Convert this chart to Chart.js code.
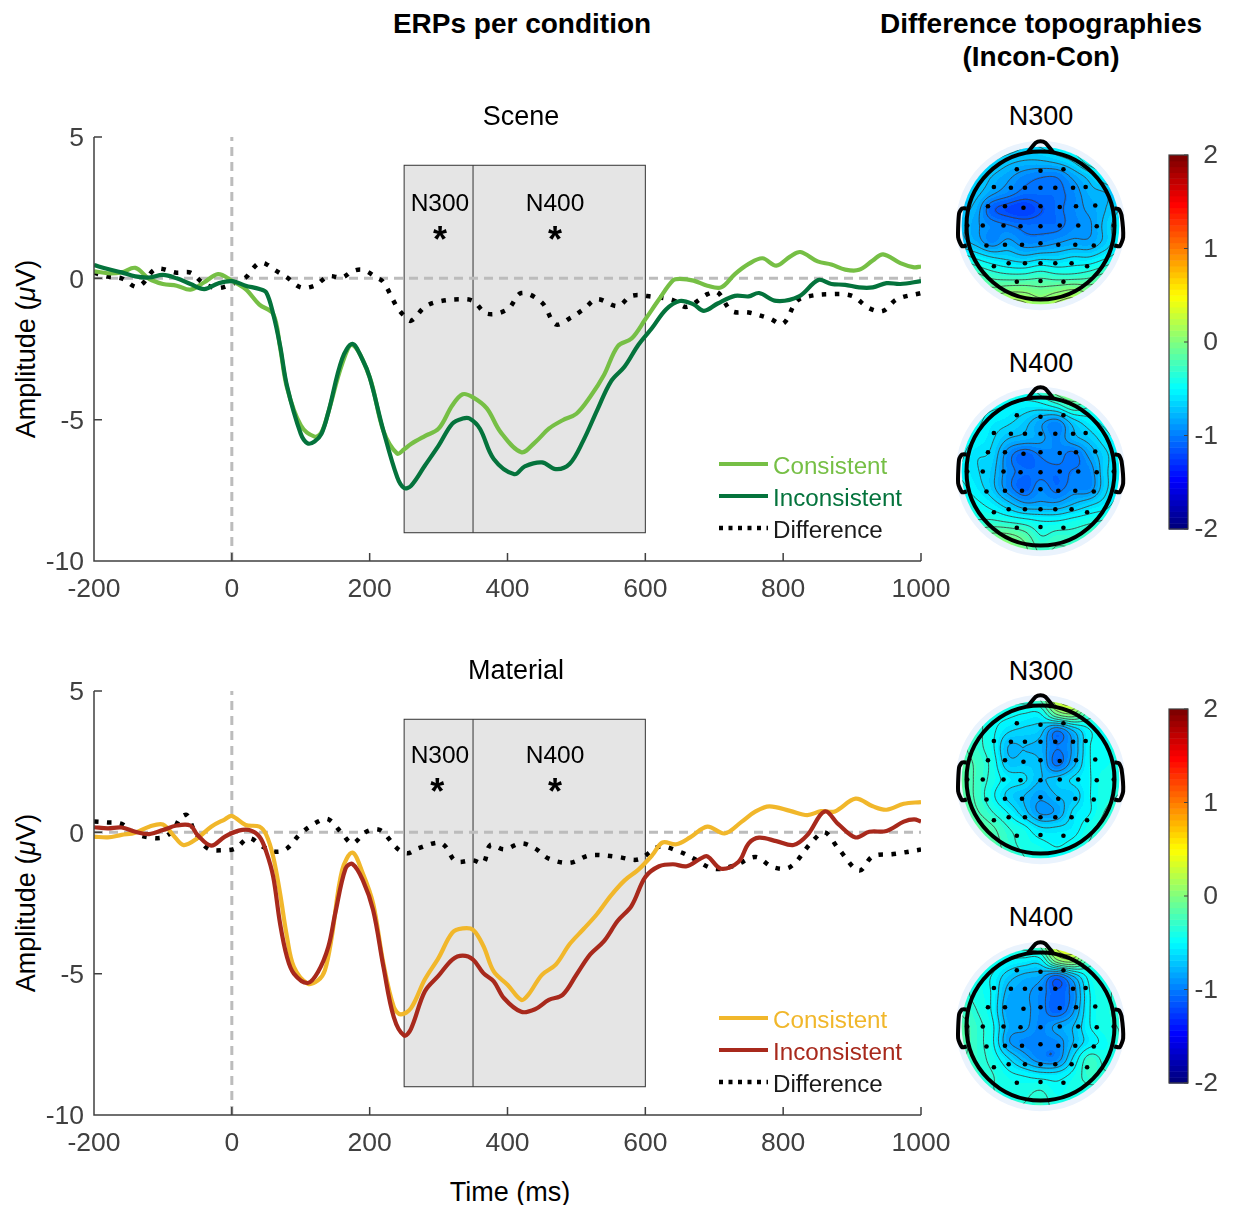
<!DOCTYPE html>
<html>
<head>
<meta charset="utf-8">
<title>ERPs per condition</title>
<script src="https://cdn.jsdelivr.net/npm/chart.js@4"></script>
<style>
  html, body { margin: 0; padding: 0; background: #fff; }
  body { position: relative; width: 1235px; height: 1205px; overflow: hidden; font-family: "Liberation Sans", Arial, sans-serif; color: #000; }
  canvas { position: absolute; }
  .txt { position: absolute; white-space: nowrap; transform: translate(-50%, -50%); font-size: 27px; line-height: 1; }
  .head { font-weight: bold; font-size: 28px; }
  .rot { transform: translate(-50%, -50%) rotate(-90deg); }
</style>
</head>
<body>
<div class="txt head" style="left:522px;top:24px">ERPs per condition</div>
<div class="txt head" style="left:1041px;top:24px">Difference topographies</div>
<div class="txt head" style="left:1041px;top:57px">(Incon-Con)</div>
<div class="txt rot" style="left:26px;top:349px">Amplitude (<i>&mu;</i>V)</div>
<div class="txt rot" style="left:26px;top:903px">Amplitude (<i>&mu;</i>V)</div>
<div class="txt" style="left:510px;top:1192px">Time (ms)</div>
<div class="txt" style="left:1041px;top:116px">N300</div>
<div class="txt" style="left:1041px;top:363px">N400</div>
<div class="txt" style="left:1041px;top:671px">N300</div>
<div class="txt" style="left:1041px;top:917px">N400</div>

<canvas id="scene" width="960" height="520" style="left:0;top:90px"></canvas>
<canvas id="material" width="960" height="520" style="left:0;top:644px"></canvas>
<canvas id="topoA" width="193" height="193" style="left:944px;top:129px"></canvas>
<canvas id="topoB" width="193" height="193" style="left:944px;top:375px"></canvas>
<canvas id="topoC" width="193" height="193" style="left:944px;top:683px"></canvas>
<canvas id="topoD" width="193" height="193" style="left:944px;top:930px"></canvas>
<canvas id="barTop" width="75" height="434" style="left:1160px;top:125px"></canvas>
<canvas id="barBottom" width="75" height="434" style="left:1160px;top:679px"></canvas>

<script>
const timeTicks = [-200, 0, 200, 400, 600, 800, 1000];
const ampTicks = [-10, -5, 0, 5];
const colorTicks = [-2, -1, 0, 1, 2];

// Scene, values
const sceneConT = [-200,-180,-160,-140,-120,-100,-80,-60,-40,-20,0,20,40,60,70,80,100,120,130,140,160,175,200,220,240,250,260,280,300,320,335,350,370,390,420,440,460,480,500,520,540,560,580,600,620,640,650,670,690,710,730,750,770,790,810,825,850,870,890,910,930,945,970,990,1000];
const sceneConV = [0.25,0.18,0.21,0.37,-0.02,-0.2,-0.26,-0.4,-0.14,0.15,-0.08,-0.38,-0.93,-1.26,-2.44,-3.86,-5.2,-5.6,-5.45,-4.74,-3.03,-2.35,-3.5,-5.4,-6.2,-6.05,-5.86,-5.58,-5.32,-4.49,-4.1,-4.21,-4.6,-5.44,-6.15,-5.8,-5.32,-5.02,-4.79,-4.19,-3.42,-2.4,-2.13,-1.45,-0.74,-0.08,-0.02,-0.08,-0.26,-0.32,0.15,0.51,0.71,0.45,0.77,0.93,0.6,0.49,0.31,0.3,0.63,0.85,0.54,0.39,0.42];
const sceneIncT = [-200,-180,-160,-140,-120,-100,-80,-60,-40,-20,0,20,40,50,60,70,80,100,110,120,130,140,160,175,190,200,220,240,250,260,280,300,320,335,345,360,380,410,425,450,470,490,510,530,550,570,590,610,630,650,670,685,705,730,750,765,790,823,851,870,890,910,930,950,970,1000];
const sceneIncV = [0.47,0.33,0.21,0.07,0.03,0.12,0,-0.2,-0.38,-0.18,-0.1,-0.26,-0.38,-0.5,-1.26,-2.38,-3.8,-5.5,-5.84,-5.77,-5.5,-4.74,-2.85,-2.32,-2.9,-3.5,-5.4,-7.04,-7.42,-7.34,-6.63,-5.92,-5.14,-4.96,-4.96,-5.32,-6.39,-6.93,-6.65,-6.51,-6.75,-6.57,-5.74,-4.67,-3.65,-3.12,-2.35,-1.75,-1.1,-0.8,-0.92,-1.15,-0.89,-0.62,-0.64,-0.52,-0.8,-0.64,-0.06,-0.2,-0.23,-0.32,-0.32,-0.17,-0.2,-0.1];
const sceneDifT = [-200,-180,-160,-140,-130,-110,-80,-60,-40,-20,0,20,30,40,50,60,80,100,120,140,160,175,190,210,220,240,250,260,280,300,330,350,370,400,420,450,470,490,510,530,560,580,610,640,660,690,705,725,750,780,800,820,840,870,900,925,945,965,1000];
const sceneDifV = [0.2,0.06,0,-0.3,-0.2,0.33,0.2,0.2,-0.2,-0.34,-0.2,0.03,0.33,0.54,0.5,0.33,0.03,-0.32,-0.26,0.07,0.03,0.25,0.3,0.03,-0.14,-1.03,-1.32,-1.5,-1.01,-0.82,-0.74,-0.8,-1.25,-1.1,-0.52,-0.86,-1.63,-1.42,-1.1,-0.74,-0.98,-0.62,-0.65,-0.77,-1.01,-0.56,-0.5,-1.15,-1.21,-1.42,-1.6,-0.8,-0.62,-0.56,-0.62,-1.06,-1.15,-0.74,-0.52];

// Material
const materialConT = [-200,-180,-160,-140,-120,-100,-85,-70,-50,-30,-10,0,20,40,50,60,70,80,90,110,125,135,145,160,175,190,205,220,235,245,260,280,300,320,335,350,365,380,400,420,430,450,470,490,510,530,550,570,590,610,625,645,665,690,715,740,760,780,810,835,855,875,905,930,950,975,1000];
const materialConV = [-0.15,-0.18,-0.09,-0.01,0.2,0.28,-0.1,-0.45,-0.21,0.2,0.46,0.58,0.26,0.2,-0.09,-0.86,-2.16,-3.7,-4.76,-5.35,-5.24,-4.88,-3.7,-1.34,-0.72,-1.45,-2.52,-4.65,-6.18,-6.44,-6.22,-5.21,-4.44,-3.55,-3.4,-3.45,-4.02,-4.92,-5.39,-5.93,-5.75,-5.04,-4.68,-3.96,-3.43,-2.89,-2.24,-1.7,-1.32,-0.81,-0.36,-0.42,-0.18,0.2,-0.04,0.38,0.74,0.92,0.76,0.61,0.75,0.74,1.19,0.92,0.8,1.01,1.07];
const materialIncT = [-200,-180,-160,-140,-120,-100,-80,-60,-50,-30,-10,10,25,40,50,60,70,80,90,110,125,140,150,165,175,190,205,220,235,250,260,280,300,320,335,350,365,380,395,420,440,460,480,500,520,540,560,580,600,620,640,660,680,690,710,735,750,765,790,815,835,860,880,905,925,950,975,990,1000];
const materialIncV = [0.18,0.14,0.17,0.02,-0.06,0.08,0.24,0.24,-0.09,-0.47,-0.15,0.06,0.08,-0.15,-0.69,-1.57,-3.23,-4.41,-5,-5.33,-4.94,-4.05,-2.87,-1.28,-1.12,-1.69,-2.75,-4.76,-6.54,-7.19,-6.95,-5.63,-5.07,-4.5,-4.36,-4.5,-4.98,-5.27,-5.87,-6.35,-6.26,-5.93,-5.75,-5.04,-4.32,-3.85,-3.13,-2.6,-1.58,-1.2,-1.13,-1.2,-0.93,-0.85,-1.29,-1.05,-0.39,-0.19,-0.31,-0.45,-0.1,0.74,0.29,-0.18,0.02,0.05,0.38,0.46,0.38];
const materialDifT = [-200,-180,-160,-140,-120,-100,-85,-75,-65,-55,-35,-10,5,25,45,65,80,100,125,140,160,175,195,215,240,255,270,300,310,325,350,365,375,395,420,440,460,490,520,560,590,620,650,670,700,730,760,785,810,840,860,880,910,930,960,1000];
const materialDifV = [0.38,0.35,0.3,-0.04,-0.18,-0.18,0.08,0.5,0.61,0.08,-0.57,-0.63,-0.57,-0.21,-0.51,-0.69,-0.57,-0.04,0.38,0.46,-0.04,-0.39,0.02,0.08,-0.57,-0.74,-0.57,-0.36,-0.5,-1.02,-0.99,-1.08,-0.45,-0.6,-0.39,-0.57,-0.93,-1.08,-0.81,-0.87,-0.96,-0.51,-0.69,-0.93,-1.29,-1.17,-0.87,-1.23,-1.23,-0.39,0,-0.57,-1.35,-0.85,-0.77,-0.61];

const zeroX = [-200, 1000];
const zeroY = [0, 0];
const onsetX = [0, 0];
const onsetY = [-10, 5];
const windowEdges = [250, 350, 600];
const windowRange = [-9, 4];

const legendNames = ['Consistent', 'Inconsistent', 'Difference'];
const sceneColors = ['#76bf45', '#04733c', '#000000'];
const materialColors = ['#f1b72b', '#a8291c', '#000000'];

// topography grids, rows top to bottom, x and y run from -1.1 to 1.1 in head units
const gridStep = 0.22;
const topoSceneN300 = [
  [-.3,-.3,-.4,-.5,-.6,-.6,-.5,-.4,-.3,-.2,-.2],
  [-.4,-.5,-.6,-.7,-.75,-.75,-.7,-.6,-.4,-.3,-.2],
  [-.5,-.6,-.75,-.85,-.95,-1,-1,-.85,-.7,-.5,-.4],
  [-.6,-.7,-.85,-.95,-1.05,-1.05,-1.05,-.95,-.8,-.75,-.6],
  [-.7,-.8,-1.1,-1.2,-1.25,-1.15,-1.05,-.95,-.85,-.75,-.6],
  [-.7,-.85,-.95,-1,-1.05,-1.05,-1.05,-.95,-.9,-.7,-.5],
  [-.7,-.8,-.95,-.85,-.95,-.95,-.9,-.85,-.85,-.7,-.5],
  [-.4,-.5,-.6,-.65,-.7,-.65,-.65,-.6,-.6,-.5,-.4],
  [-.1,-.2,-.3,-.35,-.35,-.3,-.35,-.35,-.3,-.2,-.1],
  [.05,0,-.05,0,0,-.05,0,.05,0,.05,.05],
  [.2,.2,.2,.25,.2,.1,.2,.25,.2,.2,.2]
];
const topoSceneN400 = [
  [-.2,-.2,-.2,-.3,-.4,-.3,0,.2,-.1,-.2,-.2],
  [-.3,-.4,-.45,-.5,-.55,-.55,-.45,-.25,-.35,-.35,-.3],
  [-.35,-.45,-.55,-.6,-.7,-.85,-.95,-.7,-.55,-.45,-.35],
  [-.4,-.5,-.6,-.75,-.8,-.85,-.95,-.8,-.7,-.55,-.45],
  [-.45,-.6,-.65,-.95,-1.1,-1,-.95,-1.05,-.85,-.65,-.5],
  [-.5,-.6,-.7,-.95,-1.05,-1.05,-1.05,-1,-.95,-.65,-.5],
  [-.45,-.55,-.7,-.95,-1.1,-.95,-1.05,-.95,-.95,-.65,-.5],
  [-.4,-.45,-.55,-.7,-.85,-.85,-.85,-.75,-.65,-.55,-.4],
  [-.3,-.35,-.35,-.4,-.45,-.5,-.5,-.45,-.4,-.35,-.3],
  [-.2,-.15,-.05,-.05,-.15,-.35,-.3,-.3,-.25,-.2,-.2],
  [-.1,-.05,.05,.05,-.05,-.25,-.2,-.2,-.15,-.1,-.1]
];
const topoMaterialN300 = [
  [-.2,-.2,-.2,-.3,-.3,-.2,.3,.4,-.1,-.2,-.2],
  [-.25,-.3,-.4,-.45,-.5,-.5,-.1,0,-.3,-.3,-.25],
  [-.25,-.3,-.45,-.6,-.65,-.7,-1,-.75,-.5,-.45,-.3],
  [-.2,-.3,-.45,-.75,-.75,-.8,-1,-.85,-.5,-.45,-.35],
  [-.15,-.25,-.4,-.7,-.7,-.75,-1.05,-.8,-.5,-.45,-.4],
  [-.1,-.25,-.4,-.55,-.6,-.75,-.7,-.6,-.5,-.4,-.4],
  [-.1,-.25,-.45,-.65,-.75,-.85,-.75,-.7,-.5,-.4,-.35],
  [-.1,-.2,-.35,-.5,-.7,-.9,-.85,-.6,-.5,-.35,-.3],
  [-.1,-.1,-.2,-.35,-.45,-.6,-.6,-.55,-.4,-.3,-.25],
  [-.1,-.1,-.15,-.3,-.4,-.45,-.5,-.45,-.35,-.3,-.2],
  [-.1,-.1,-.15,-.25,-.35,-.4,-.45,-.4,-.3,-.2,-.2]
];
const topoMaterialN400 = [
  [-.2,-.25,-.3,-.35,-.3,-.2,.35,.45,-.05,-.2,-.2],
  [-.3,-.35,-.4,-.5,-.55,-.55,-.05,.05,-.3,-.35,-.3],
  [-.3,-.4,-.5,-.7,-.8,-.85,-1.1,-.8,-.45,-.4,-.3],
  [-.3,-.4,-.5,-.8,-.85,-.95,-1.1,-.95,-.5,-.4,-.3],
  [-.25,-.35,-.5,-.85,-.85,-.95,-1.1,-.9,-.5,-.4,-.3],
  [-.15,-.3,-.45,-.8,-.85,-.95,-.85,-.75,-.5,-.4,-.35],
  [-.15,-.3,-.45,-.85,-.95,-.95,-.95,-.75,-.55,-.45,-.35],
  [-.2,-.3,-.4,-.6,-.8,-.95,-.95,-.6,-.3,-.4,-.35],
  [-.2,-.3,-.35,-.45,-.5,-.55,-.55,-.45,-.3,-.35,-.3],
  [-.2,-.3,-.35,-.4,-.4,-.35,-.45,-.4,-.4,-.35,-.25],
  [-.15,-.2,-.3,-.35,-.35,-.3,-.4,-.35,-.35,-.25,-.2]
];
const contourLevels = [-1.4,-1.27,-1.14,-1.01,-.88,-.75,-.62,-.49,-.36,-.23,-.1,.03,.16,.29];

const electrodeX = [-.32,0,.31,-.63,-.4,-.21,0,.2,.44,.61,-.71,-.48,-.23,0,.26,.48,.74,-.78,-.5,-.27,0,.26,.51,.76,-.99,.99,-.73,-.48,-.25,0,.24,.47,.72,-.63,-.43,-.21,0,.2,.42,.63,-.32,0,.31];
const electrodeY = [.76,.74,.76,.52,.51,.51,.51,.51,.51,.52,.26,.26,.24,.26,.25,.26,.27,0,0,-.01,-.01,0,0,-.01,0,0,-.27,-.26,-.26,-.24,-.26,-.26,-.27,-.55,-.51,-.51,-.51,-.51,-.51,-.55,-.76,-.75,-.76];
const noseX = [-.173,-.065,0,.065,.173];
const noseY = [.987,1.117,1.14,1.117,.987];
const earLeftX = [-.996,-1.06,-1.1,-1.113,-1.06,-.996];
const earLeftY = [.23,.23,.165,-.16,-.28,-.27];
const earRightX = [.996,1.06,1.095,1.117,1.07,.996];
const earRightY = [.23,.22,.14,-.16,-.28,-.27];

const FONT = '"Liberation Sans", Arial, sans-serif';
const INK = '#404040';

function zip(xs, ys) {
  return xs.map((x, i) => ({x: x, y: ys[i]}));
}

function jet(v) {
  let t = (v + 2) / 4;
  t = Math.max(0, Math.min(63, Math.floor(t * 64))) / 63;
  const c = d => Math.round(255 * Math.max(0, Math.min(1, 1.5 - Math.abs(4 * t - d))));
  return [c(3), c(2), c(1)];
}

// catmull-rom through the grid
function cubic(a, b, c, d, t) {
  return 0.5 * (2 * b + (c - a) * t + (2 * a - 5 * b + 4 * c - d) * t * t + (3 * b - a - 3 * c + d) * t * t * t);
}

function sampleGrid(grid, hx, hy) {
  const n = grid.length;
  const col = Math.max(0, Math.min(n - 1.001, (hx + 1.1) / gridStep));
  const row = Math.max(0, Math.min(n - 1.001, (1.1 - hy) / gridStep));
  const c0 = Math.floor(col), r0 = Math.floor(row);
  const at = (r, c) => grid[Math.max(0, Math.min(n - 1, r))][Math.max(0, Math.min(n - 1, c))];
  const rows = [];
  for (let r = r0 - 1; r <= r0 + 2; r++) {
    rows.push(cubic(at(r, c0 - 1), at(r, c0), at(r, c0 + 1), at(r, c0 + 2), col - c0));
  }
  return cubic(rows[0], rows[1], rows[2], rows[3], row - r0);
}

// time axis styling shared by both panels
function panelPlugin(title, titleX, labels, colors) {
  return {
    id: 'panel',
    beforeDatasetsDraw(chart) {
      const {ctx} = chart;
      const x = chart.scales.x, y = chart.scales.y;
      const top = y.getPixelForValue(windowRange[1]), bottom = y.getPixelForValue(windowRange[0]);
      const left = x.getPixelForValue(windowEdges[0]), right = x.getPixelForValue(windowEdges[2]);
      ctx.save();
      ctx.fillStyle = '#e5e5e5';
      ctx.fillRect(left, top, right - left, bottom - top);
      ctx.strokeStyle = '#333';
      ctx.lineWidth = 1;
      ctx.strokeRect(left, top, right - left, bottom - top);
      const mid = x.getPixelForValue(windowEdges[1]);
      ctx.beginPath();
      ctx.moveTo(mid, top);
      ctx.lineTo(mid, bottom);
      ctx.stroke();
      ctx.restore();
    },
    afterDatasetsDraw(chart) {
      const {ctx, chartArea} = chart;
      const x = chart.scales.x, y = chart.scales.y;
      ctx.save();
      // axes with inward ticks
      ctx.strokeStyle = INK;
      ctx.lineWidth = 1.5;
      ctx.beginPath();
      ctx.moveTo(chartArea.left, chartArea.top);
      ctx.lineTo(chartArea.left, chartArea.bottom);
      ctx.lineTo(chartArea.right, chartArea.bottom);
      timeTicks.forEach(t => {
        const px = x.getPixelForValue(t);
        ctx.moveTo(px, chartArea.bottom);
        ctx.lineTo(px, chartArea.bottom - 8);
      });
      ampTicks.forEach(a => {
        const py = y.getPixelForValue(a);
        ctx.moveTo(chartArea.left, py);
        ctx.lineTo(chartArea.left + 8, py);
      });
      ctx.stroke();

      // window labels
      ctx.fillStyle = '#000';
      ctx.textAlign = 'center';
      ctx.textBaseline = 'middle';
      labels.forEach(l => {
        ctx.font = '24.5px ' + FONT;
        ctx.fillText(l.name, x.getPixelForValue(l.t), y.getPixelForValue(l.y) + 2);
        ctx.font = 'bold 36px ' + FONT;
        ctx.fillText('*', x.getPixelForValue(l.starT), y.getPixelForValue(l.starY) + 7);
      });

      // title
      ctx.font = '27px ' + FONT;
      ctx.fillText(title, titleX, chartArea.top - 19);

      // legend
      ctx.font = '24.2px ' + FONT;
      ctx.textAlign = 'left';
      legendNames.forEach((name, i) => {
        const ly = chartArea.top + 327 + i * 32;
        ctx.strokeStyle = colors[i];
        ctx.lineWidth = i === 2 ? 4.5 : 4;
        ctx.setLineDash(i === 2 ? [4, 5.5] : []);
        ctx.beginPath();
        ctx.moveTo(719, ly);
        ctx.lineTo(768, ly);
        ctx.stroke();
        ctx.fillStyle = i === 2 ? '#1a1a1a' : colors[i];
        ctx.fillText(name, 773, ly + 3);
      });
      ctx.restore();
    }
  };
}

function makePanel(id, title, titleX, series, labels, colors) {
  const refLine = data => ({
    data: data, borderColor: '#bcbcbc', borderWidth: 3, borderDash: [9, 6],
    pointRadius: 0, tension: 0, order: 9
  });
  const curve = (data, i) => ({
    label: legendNames[i], data: data, borderColor: colors[i], pointRadius: 0,
    borderWidth: i === 2 ? 4.5 : 4.2, tension: 0.35, order: [2, 1, 3][i],
    borderDash: i === 2 ? [4.5, 8.5] : [], borderCapStyle: 'butt'
  });
  return new Chart(document.getElementById(id), {
    type: 'line',
    data: {
      datasets: [
        refLine(zip(zeroX, zeroY)),
        refLine(zip(onsetX, onsetY)),
        curve(zip(series[0], series[1]), 0),
        curve(zip(series[2], series[3]), 1),
        curve(zip(series[4], series[5]), 2)
      ]
    },
    options: {
      responsive: false,
      animation: false,
      layout: {padding: {left: 0, right: 39, top: 47, bottom: 0}},
      plugins: {legend: {display: false}, tooltip: {enabled: false}},
      scales: {
        x: {
          type: 'linear', min: -200, max: 1000,
          afterBuildTicks: s => { s.ticks = timeTicks.map(v => ({value: v})); },
          afterFit: s => { s.height = 49; },
          grid: {display: false}, border: {display: false},
          ticks: {color: INK, font: {size: 26.5, family: FONT}, padding: 5, maxRotation: 0, autoSkip: false, callback: v => String(v)}
        },
        y: {
          min: -10, max: 5,
          afterBuildTicks: s => { s.ticks = ampTicks.map(v => ({value: v})); },
          afterFit: s => { s.width = 94; },
          grid: {display: false}, border: {display: false},
          ticks: {color: INK, font: {size: 26.5, family: FONT}, padding: 2, labelOffset: 2, callback: v => String(v)}
        }
      }
    },
    plugins: [panelPlugin(title, titleX, labels, colors)]
  });
}

makePanel('scene', 'Scene', 521,
  [sceneConT, sceneConV, sceneIncT, sceneIncV, sceneDifT, sceneDifV],
  [{name: 'N300', t: 302, y: 2.69, starT: 302, starY: 1.52}, {name: 'N400', t: 469, y: 2.69, starT: 469, starY: 1.52}],
  sceneColors);
makePanel('material', 'Material', 516,
  [materialConT, materialConV, materialIncT, materialIncV, materialDifT, materialDifV],
  [{name: 'N300', t: 302, y: 2.76, starT: 298, starY: 1.6}, {name: 'N400', t: 469, y: 2.76, starT: 469, starY: 1.6}],
  materialColors);

function topoPlugin(grid) {
  return {
    id: 'topo',
    beforeDatasetsDraw(chart) {
      const {ctx, chartArea} = chart;
      const x = chart.scales.x, y = chart.scales.y;
      const cx = x.getPixelForValue(0), cy = y.getPixelForValue(0);
      const unit = x.getPixelForValue(1) - cx;

      ctx.save();
      ctx.fillStyle = '#eaf3fd';
      ctx.beginPath();
      ctx.arc(cx, cy, 1.145 * unit, 0, Math.PI * 2);
      ctx.fill();

      // heat map
      const w = Math.round(chartArea.width), h = Math.round(chartArea.height);
      const off = document.createElement('canvas');
      off.width = w; off.height = h;
      const octx = off.getContext('2d');
      const img = octx.createImageData(w, h);
      for (let py = 0; py < h; py++) {
        for (let px = 0; px < w; px++) {
          const hx = x.getValueForPixel(chartArea.left + px + 0.5);
          const hy = y.getValueForPixel(chartArea.top + py + 0.5);
          const rgb = jet(sampleGrid(grid, hx, hy));
          const k = (py * w + px) * 4;
          img.data[k] = rgb[0]; img.data[k + 1] = rgb[1]; img.data[k + 2] = rgb[2]; img.data[k + 3] = 255;
        }
      }
      octx.putImageData(img, 0, 0);
      ctx.beginPath();
      ctx.arc(cx, cy, 1.065 * unit, 0, Math.PI * 2);
      ctx.clip();
      ctx.drawImage(off, chartArea.left, chartArea.top);

      // contours, plain marching squares on a finer lattice
      const N = 110;
      const coord = i => -1.1 + 2.2 * i / N;
      const field = [];
      for (let j = 0; j <= N; j++) {
        field.push([]);
        for (let i = 0; i <= N; i++) field[j].push(sampleGrid(grid, coord(i), coord(j)));
      }
      ctx.strokeStyle = '#3c3c3c';
      ctx.lineWidth = 0.85;
      ctx.beginPath();
      contourLevels.forEach(level => {
        for (let j = 0; j < N; j++) {
          for (let i = 0; i < N; i++) {
            const a = field[j][i], b = field[j][i + 1], c = field[j + 1][i + 1], d = field[j + 1][i];
            const hits = [];
            if ((a < level) !== (b < level)) hits.push([coord(i + (level - a) / (b - a)), coord(j)]);
            if ((b < level) !== (c < level)) hits.push([coord(i + 1), coord(j + (level - b) / (c - b))]);
            if ((d < level) !== (c < level)) hits.push([coord(i + (level - d) / (c - d)), coord(j + 1)]);
            if ((a < level) !== (d < level)) hits.push([coord(i), coord(j + (level - a) / (d - a))]);
            for (let k = 0; k + 1 < hits.length; k += 2) {
              ctx.moveTo(x.getPixelForValue(hits[k][0]), y.getPixelForValue(hits[k][1]));
              ctx.lineTo(x.getPixelForValue(hits[k + 1][0]), y.getPixelForValue(hits[k + 1][1]));
            }
          }
        }
      });
      ctx.stroke();
      ctx.restore();
    },
    afterDatasetsDraw(chart) {
      const {ctx} = chart;
      const x = chart.scales.x, y = chart.scales.y;
      const cx = x.getPixelForValue(0), cy = y.getPixelForValue(0);
      ctx.save();
      ctx.strokeStyle = '#000';
      ctx.lineWidth = 4;
      ctx.beginPath();
      ctx.arc(cx, cy, x.getPixelForValue(1) - cx, 0, Math.PI * 2);
      ctx.stroke();
      ctx.restore();
    }
  };
}

function makeTopo(id, grid) {
  const outline = (xs, ys) => ({
    data: zip(xs, ys), showLine: true, borderColor: '#000', borderWidth: 4,
    pointRadius: 0, tension: 0.2, clip: false
  });
  return new Chart(document.getElementById(id), {
    type: 'scatter',
    data: {
      datasets: [
        outline(noseX, noseY),
        outline(earLeftX, earLeftY),
        outline(earRightX, earRightY),
        {data: zip(electrodeX, electrodeY), pointRadius: 2.3, borderWidth: 0, backgroundColor: '#000'}
      ]
    },
    options: {
      responsive: false,
      animation: false,
      layout: {padding: 0},
      plugins: {legend: {display: false}, tooltip: {enabled: false}},
      scales: {
        x: {type: 'linear', min: -1.25, max: 1.25, display: false},
        y: {type: 'linear', min: -1.25, max: 1.25, display: false}
      }
    },
    plugins: [topoPlugin(grid)]
  });
}

makeTopo('topoA', topoSceneN300);
makeTopo('topoB', topoSceneN400);
makeTopo('topoC', topoMaterialN300);
makeTopo('topoD', topoMaterialN400);

const colorBarPlugin = {
  id: 'colorBar',
  beforeDatasetsDraw(chart) {
    const {ctx, chartArea} = chart;
    const y = chart.scales.y;
    ctx.save();
    for (let i = 0; i < 64; i++) {
      const lo = -2 + 4 * i / 64, hi = -2 + 4 * (i + 1) / 64;
      const rgb = jet(lo + 0.01);
      ctx.fillStyle = `rgb(${rgb[0]},${rgb[1]},${rgb[2]})`;
      ctx.fillRect(chartArea.left, y.getPixelForValue(hi), chartArea.width, y.getPixelForValue(lo) - y.getPixelForValue(hi) + 0.5);
    }
    ctx.strokeStyle = INK;
    ctx.lineWidth = 1.2;
    ctx.strokeRect(chartArea.left, chartArea.top, chartArea.width, chartArea.height);
    ctx.beginPath();
    colorTicks.forEach(v => {
      ctx.moveTo(chartArea.right, y.getPixelForValue(v));
      ctx.lineTo(chartArea.right - 4, y.getPixelForValue(v));
    });
    ctx.stroke();
    ctx.restore();
  }
};

function makeColorBar(id) {
  return new Chart(document.getElementById(id), {
    type: 'scatter',
    data: {datasets: [{data: []}]},
    options: {
      responsive: false,
      animation: false,
      layout: {padding: {left: 9, right: 17, top: 30, bottom: 30}},
      plugins: {legend: {display: false}, tooltip: {enabled: false}},
      scales: {
        x: {type: 'linear', display: false},
        y: {
          position: 'right', min: -2, max: 2,
          afterBuildTicks: s => { s.ticks = colorTicks.map(v => ({value: v})); },
          afterFit: s => { s.width = 30; },
          grid: {display: false, drawTicks: false}, border: {display: false},
          ticks: {color: INK, font: {size: 26.5, family: FONT}, padding: 7, labelOffset: 1, crossAlign: 'far', callback: v => String(v)}
        }
      }
    },
    plugins: [colorBarPlugin]
  });
}

makeColorBar('barTop');
makeColorBar('barBottom');
</script>
</body>
</html>
